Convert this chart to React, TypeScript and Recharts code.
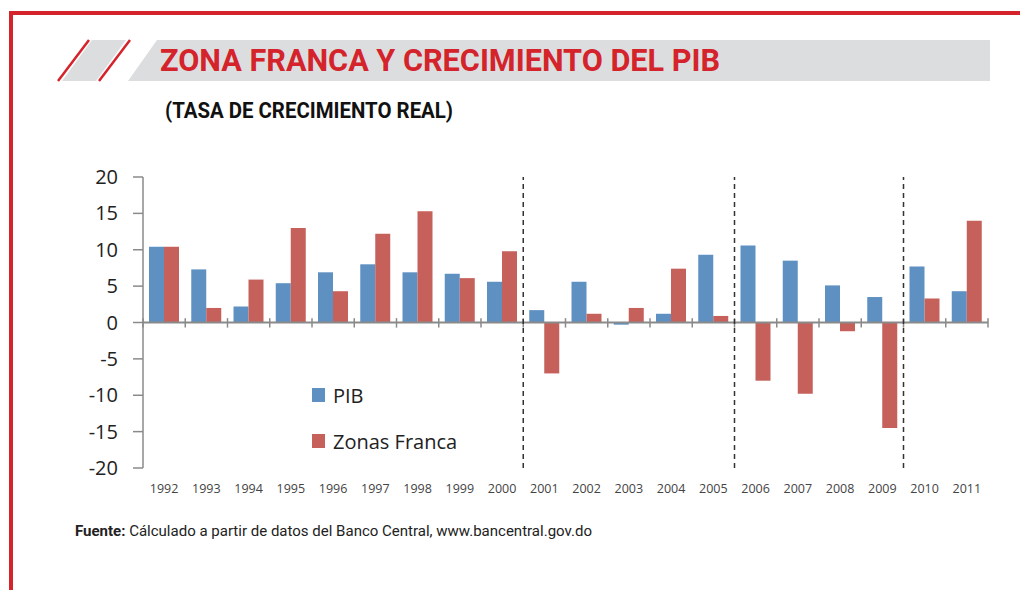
import {
  Bar,
  BarChart,
  Legend,
  ReferenceLine,
  XAxis,
  YAxis,
} from "recharts";

const years = [
  "1992", "1993", "1994", "1995", "1996", "1997", "1998", "1999", "2000", "2001",
  "2002", "2003", "2004", "2005", "2006", "2007", "2008", "2009", "2010", "2011",
];
const pib = [10.4, 7.3, 2.2, 5.4, 6.9, 8.0, 6.9, 6.7, 5.6, 1.7, 5.6, -0.3, 1.2, 9.3, 10.6, 8.5, 5.1, 3.5, 7.7, 4.3];
const zonasFranca = [10.4, 2.0, 5.9, 13.0, 4.3, 12.2, 15.3, 6.1, 9.8, -7.0, 1.2, 2.0, 7.4, 0.9, -8.0, -9.8, -1.2, -14.5, 3.3, 14.0];
const yTicks = [20, 15, 10, 5, 0, -5, -10, -15, -20];
// dashed separators sit at the start of these years
const separators = ["2001", "2006", "2010"];

const data = years.map((year, i) => ({ year, pib: pib[i], zf: zonasFranca[i] }));

const RED = "#d5232b";
const BLUE = "#5e90c2";
const ROSE = "#c5605b";
const GRAY = "#8a8a8a";
const chartFont = "'Open Sans', 'Noto Sans', sans-serif";
const narrowFont = "'Liberation Sans Narrow', 'Roboto', sans-serif";

const renderLegend = (props: any) => (
  <div style={{ fontFamily: chartFont, fontSize: 20, color: "#222" }}>
    {props.payload.map((e: any) => (
      <div key={e.value} style={{ display: "flex", alignItems: "center", height: 46 }}>
        <span style={{ width: 13, height: 14, background: e.color, marginRight: 8 }} />
        <span>{e.value}</span>
      </div>
    ))}
  </div>
);

const Header = () => (
  <svg width={1020} height={590} style={{ position: "absolute", left: 0, top: 0 }}>
    <rect x={10} y={11} width={1010} height={4} fill={RED} />
    <rect x={9} y={11} width={4} height={579} fill={RED} />
    <polygon points="92,40 126,40 96,81 62,81" fill="#dcdddf" />
    <line x1={89} y1={40} x2={58} y2={81} stroke={RED} strokeWidth={2.5} />
    <line x1={130} y1={40} x2={99} y2={81} stroke={RED} strokeWidth={2.5} />
    <polygon points="157,40 990,40 990,81 128,81" fill="#dcdddf" />
    <text
      x={160}
      y={71}
      fontSize={32}
      fontWeight={700}
      fill={RED}
      fontFamily={narrowFont}
      textLength={560}
      lengthAdjust="spacingAndGlyphs"
    >
      ZONA FRANCA Y CRECIMIENTO DEL PIB
    </text>
    <text
      x={165}
      y={118}
      fontSize={22}
      fontWeight={700}
      fill="#111"
      fontFamily={narrowFont}
      textLength={288}
      lengthAdjust="spacingAndGlyphs"
    >
      (TASA DE CRECIMIENTO REAL)
    </text>
    <text
      x={75}
      y={536}
      fontSize={15}
      fill="#222"
      fontFamily={narrowFont}
      textLength={517}
      lengthAdjust="spacingAndGlyphs"
    >
      <tspan fontWeight={700}>Fuente:</tspan> Cálculado a partir de datos del Banco Central, www.bancentral.gov.do
    </text>
  </svg>
);

const App = () => {
  return (
    <div
      style={{
        position: "absolute",
        left: 0,
        top: 0,
        width: 1020,
        height: 590,
        background: "#fff",
        overflow: "hidden",
      }}
    >
      <Header />
      <div style={{ position: "absolute", left: 0, top: 0 }}>
        <BarChart
          width={1020}
          height={590}
          data={data}
          margin={{ top: 177, right: 32, bottom: 92, left: 83 }}
          barCategoryGap={6}
          barGap={0}
        >
          <XAxis
            dataKey="year"
            interval={0}
            axisLine={false}
            tickLine={false}
            height={30}
            tickMargin={10}
            tick={{ fontSize: 12.5, fill: "#444", fontFamily: chartFont }}
          />
          <YAxis
            domain={[-20, 20]}
            ticks={yTicks}
            interval={0}
            width={60}
            tickSize={10}
            tickMargin={15}
            axisLine={{ stroke: GRAY, strokeWidth: 1.5 }}
            tickLine={{ stroke: GRAY, strokeWidth: 1.5 }}
            tick={{ fontSize: 20, fill: "#222", fontFamily: chartFont }}
          />
          <Legend
            layout="vertical"
            align="center"
            verticalAlign="middle"
            content={renderLegend}
            wrapperStyle={{ left: 312, top: 372, width: 200 }}
          />
          <Bar dataKey="pib" name="PIB" fill={BLUE} isAnimationActive={false} />
          <Bar dataKey="zf" name="Zonas Franca" fill={ROSE} isAnimationActive={false} />
          <ReferenceLine y={0} stroke={GRAY} strokeWidth={2} />
          {years.map((y) => (
            <ReferenceLine
              key={"t" + y}
              position="start"
              segment={[
                { x: y, y: 0.6 },
                { x: y, y: -0.7 },
              ]}
              stroke={GRAY}
              strokeWidth={1.5}
            />
          ))}
          <ReferenceLine
            position="end"
            segment={[
              { x: years[years.length - 1], y: 0.6 },
              { x: years[years.length - 1], y: -0.7 },
            ]}
            stroke={GRAY}
            strokeWidth={1.5}
          />
          {separators.map((s) => (
            <ReferenceLine
              key={"s" + s}
              x={s}
              position="start"
              stroke="#333"
              strokeWidth={1.5}
              strokeDasharray="5 4"
            />
          ))}
        </BarChart>
      </div>
    </div>
  );
};

export default App;
